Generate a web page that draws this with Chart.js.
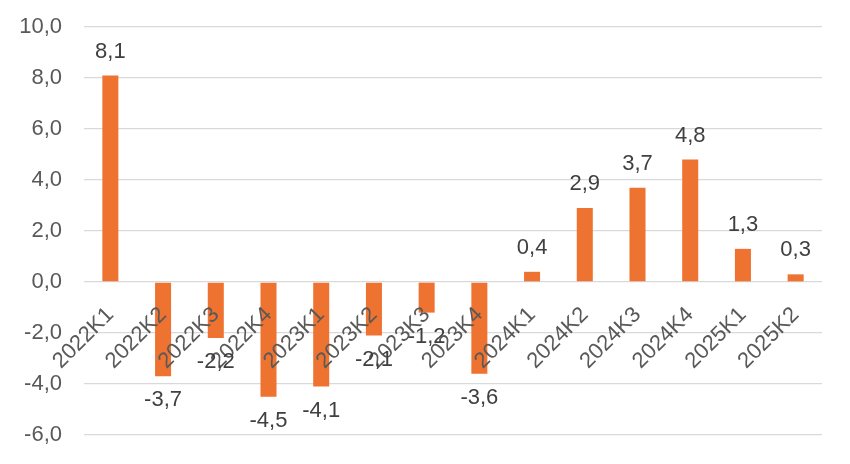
<!DOCTYPE html>
<html>
<head>
<meta charset="utf-8">
<script src="https://cdn.jsdelivr.net/npm/chart.js@4/dist/chart.umd.min.js"></script>
<style>
  body { margin: 0; background: #fff; }
</style>
</head>
<body>
<canvas id="chart" width="850" height="464"></canvas>
<script>
// kvartaler
var quarters = ['2022K1', '2022K2', '2022K3', '2022K4', '2023K1', '2023K2', '2023K3', '2023K4',
  '2024K1', '2024K2', '2024K3', '2024K4', '2025K1', '2025K2'];
// verdier
var values = [8.1, -3.7, -2.2, -4.5, -4.1, -2.1, -1.2, -3.6, 0.4, 2.9, 3.7, 4.8, 1.3, 0.3];
// y-akse
var yMin = -6;
var yMax = 10;
var yStep = 2;

var fontFamily = '"Liberation Sans", Arial, sans-serif';

function comma(v) {
  return v.toFixed(1).replace('.', ',');
}

// tall over/under søylene
var valueLabels = {
  id: 'valueLabels',
  afterDraw: function (chart) {
    var ctx = chart.ctx;
    var meta = chart.getDatasetMeta(0);
    ctx.save();
    ctx.font = '22px ' + fontFamily;
    ctx.fillStyle = '#404040';
    ctx.textAlign = 'center';
    ctx.textBaseline = 'middle';
    meta.data.forEach(function (bar, i) {
      var v = values[i];
      var y = v >= 0 ? bar.y - 24 : bar.y + 24;
      ctx.fillText(comma(v), bar.x, y);
    });
    ctx.restore();
  }
};

new Chart(document.getElementById('chart').getContext('2d'), {
  type: 'bar',
  data: {
    labels: quarters,
    datasets: [{
      data: values,
      backgroundColor: '#EE7230',
      barPercentage: 0.38,
      categoryPercentage: 0.8
    }]
  },
  options: {
    responsive: false,
    animation: false,
    devicePixelRatio: 1,
    layout: { padding: { top: 27, right: 28, bottom: 29, left: 0 } },
    plugins: {
      legend: { display: false },
      tooltip: { enabled: false }
    },
    scales: {
      x: {
        position: { y: 0 },
        grid: { display: false, drawTicks: false },
        border: { display: false },
        ticks: {
          z: 1,
          color: '#595959',
          font: { size: 22, family: fontFamily },
          minRotation: 45,
          maxRotation: 45,
          autoSkip: false,
          padding: 20
        },
        afterFit: function (scale) {
          scale.height = 0;
          scale.paddingLeft = 0;
          scale.paddingRight = 0;
        }
      },
      y: {
        min: yMin,
        max: yMax,
        grid: { color: '#D9D9D9', lineWidth: 1.3, drawTicks: false },
        border: { display: false },
        ticks: {
          stepSize: yStep,
          color: '#595959',
          padding: 22,
          font: { size: 22, family: fontFamily },
          callback: function (v) { return comma(v); }
        },
        afterFit: function (scale) {
          scale.width = 84;
          scale.paddingTop = 0;
          scale.paddingBottom = 0;
        }
      }
    }
  },
  plugins: [valueLabels]
});
</script>
</body>
</html>
